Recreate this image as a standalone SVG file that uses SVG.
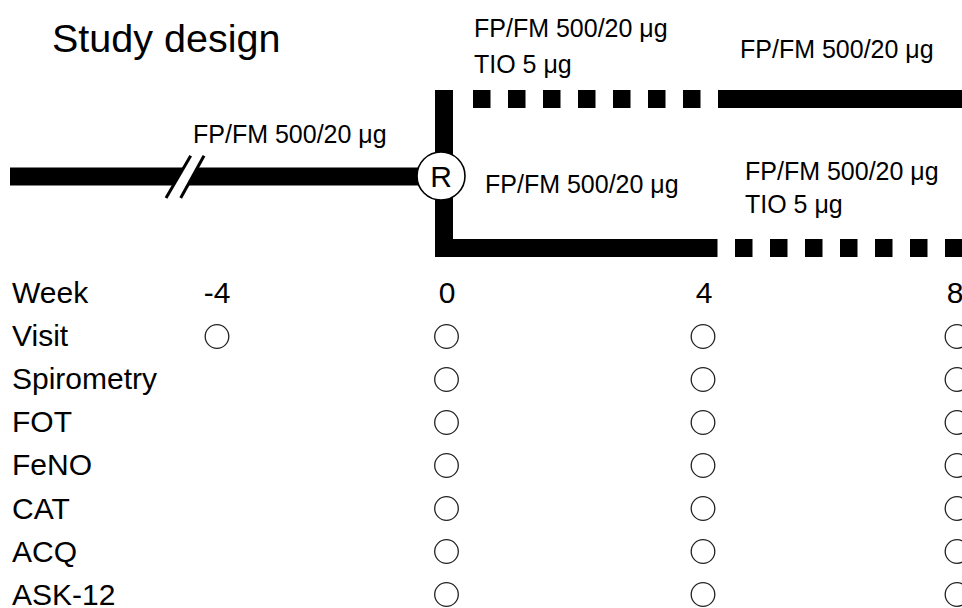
<svg xmlns="http://www.w3.org/2000/svg" width="962" height="608" viewBox="0 0 962 608">
<style>
text{font-family:"Liberation Sans",Arial,sans-serif;fill:#000}
.t{font-size:39.5px}
.lb{font-size:25px}
.row{font-size:30px}
.num{font-size:30px;text-anchor:middle}
.bar{stroke:#000;stroke-width:18;fill:none}
.dash{stroke:#000;stroke-width:18;fill:none;stroke-dasharray:17.5 17.5}
.v{fill:#fff;stroke:#222;stroke-width:1.3}
</style>
<rect width="962" height="608" fill="#fff"/>
<text class="t" x="52" y="52">Study design</text>
<g id="connectors">
<line class="bar" x1="10" y1="176.5" x2="420" y2="176.5"/>
<polygon points="166,198 190.7,155.7 204,155.7 180.7,198" fill="#fff"/>
<line x1="166" y1="198" x2="190.7" y2="155.7" stroke="#000" stroke-width="3"/>
<line x1="180.7" y1="198" x2="204" y2="155.7" stroke="#000" stroke-width="3"/>
<rect x="435" y="90" width="18" height="167" fill="#000"/>
<line class="dash" x1="473" y1="99" x2="701" y2="99"/>
<line class="bar" x1="718" y1="99" x2="962" y2="99"/>
<line class="bar" x1="435" y1="248" x2="717.5" y2="248"/>
<line class="dash" x1="735" y1="248" x2="962" y2="248"/>
</g>
<g id="node-R">
<circle cx="441" cy="176" r="24" fill="#fff" stroke="#000" stroke-width="1.6"/>
<text x="441" y="186.5" font-size="30" text-anchor="middle">R</text>
</g>
<g id="labels">
<text class="lb" x="193" y="143">FP/FM 500/20 μg</text>
<text class="lb" x="474" y="37">FP/FM 500/20 μg</text>
<text class="lb" x="474" y="73">TIO 5 μg</text>
<text class="lb" x="740" y="58">FP/FM 500/20 μg</text>
<text class="lb" x="485" y="193">FP/FM 500/20 μg</text>
<text class="lb" x="745" y="180">FP/FM 500/20 μg</text>
<text class="lb" x="745" y="213">TIO 5 μg</text>
</g>
<g id="table">
<text class="row" x="12" y="303">Week</text>
<text class="row" x="12" y="346">Visit</text>
<text class="row" x="12" y="389">Spirometry</text>
<text class="row" x="12" y="432">FOT</text>
<text class="row" x="12" y="475">FeNO</text>
<text class="row" x="12" y="518.5">CAT</text>
<text class="row" x="12" y="562">ACQ</text>
<text class="row" x="12" y="605">ASK-12</text>
<text class="num" x="217" y="303">-4</text>
<text class="num" x="447" y="303">0</text>
<text class="num" x="704" y="303">4</text>
<text class="num" x="955" y="303">8</text>
<circle class="v" cx="217" cy="336.5" r="11.8"/>
<g id="col0">
<circle class="v" cx="446.5" cy="336.5" r="11.8"/>
<circle class="v" cx="446.5" cy="379.5" r="11.8"/>
<circle class="v" cx="446.5" cy="422.5" r="11.8"/>
<circle class="v" cx="446.5" cy="465.5" r="11.8"/>
<circle class="v" cx="446.5" cy="508.5" r="11.8"/>
<circle class="v" cx="446.5" cy="551.5" r="11.8"/>
<circle class="v" cx="446.5" cy="594.5" r="11.8"/>
</g>
<g id="col4">
<circle class="v" cx="703" cy="336.5" r="11.8"/>
<circle class="v" cx="703" cy="379.5" r="11.8"/>
<circle class="v" cx="703" cy="422.5" r="11.8"/>
<circle class="v" cx="703" cy="465.5" r="11.8"/>
<circle class="v" cx="703" cy="508.5" r="11.8"/>
<circle class="v" cx="703" cy="551.5" r="11.8"/>
<circle class="v" cx="703" cy="594.5" r="11.8"/>
</g>
<g id="col8">
<circle class="v" cx="957" cy="336.5" r="11.8"/>
<circle class="v" cx="957" cy="379.5" r="11.8"/>
<circle class="v" cx="957" cy="422.5" r="11.8"/>
<circle class="v" cx="957" cy="465.5" r="11.8"/>
<circle class="v" cx="957" cy="508.5" r="11.8"/>
<circle class="v" cx="957" cy="551.5" r="11.8"/>
<circle class="v" cx="957" cy="594.5" r="11.8"/>
</g>
</g>
</svg>
